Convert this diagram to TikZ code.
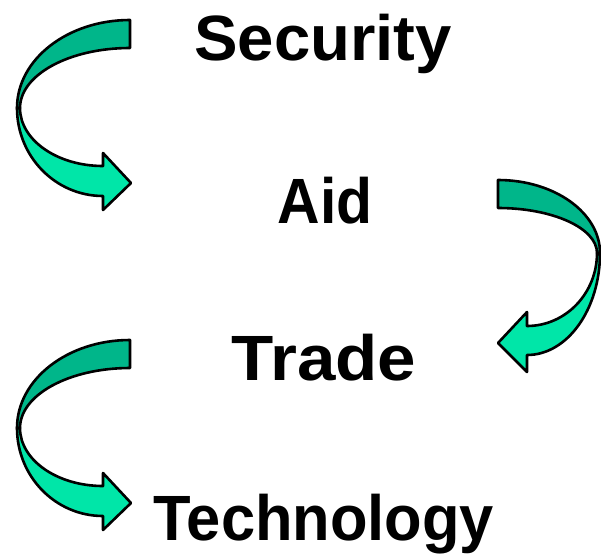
\documentclass[tikz,border=0pt]{standalone}
\usepackage{fontspec}
\setmainfont{Liberation Sans}
\definecolor{banddark}{RGB}{0,182,138}
\definecolor{bandlight}{RGB}{0,230,168}
\begin{document}
\begin{tikzpicture}[x=1pt,y=-1pt,
  band/.style={draw=black,line width=2.6pt,line join=round},
  upperband/.style={band,fill=banddark},
  lowerband/.style={band,fill=bandlight},
  word/.style={anchor=base,inner sep=0pt,font=\fontsize{64}{70}\selectfont\bfseries}]
\useasboundingbox (0,0) rectangle (601,554);
% texts
\node[word] (security) at (323,60) {\scalebox{1.02}[1]{Security}};
\node[word] (aid) at (325,223) {\scalebox{0.92}[1]{Aid}};
\node[word] (trade) at (324,380) {\scalebox{1.08}[1]{Trade}};
\node[word] (technology) at (324,540) {\scalebox{0.96}[1]{Technology}};
% left arrows (Security -> Aid, Trade -> Technology)
\foreach \dy in {0,320}{
  \begin{scope}[yshift=-\dy pt]
    \filldraw[lowerband] (17,108) arc[start angle=180,end angle=90,x radius=86,y radius=88]
      -- (103,210) -- (131,183) -- (103,153) -- (103,166)
      arc[start angle=90,end angle=180,x radius=83,y radius=58] -- cycle;
    \filldraw[upperband] (130,20) arc[start angle=270,end angle=180,x radius=113,y radius=88]
      -- (20,108) arc[start angle=180,end angle=270,x radius=110,y radius=60] -- cycle;
  \end{scope}
}
% right arrow (Aid -> Trade)
\filldraw[lowerband] (600,253) arc[start angle=0,end angle=90,x radius=73,y radius=102]
  -- (527,372) -- (498,343) -- (527,312) -- (527,326)
  arc[start angle=90,end angle=0,x radius=70,y radius=73] -- cycle;
\filldraw[upperband] (498,180) arc[start angle=270,end angle=360,x radius=102,y radius=73]
  -- (597,253) arc[start angle=0,end angle=-90,x radius=99,y radius=45] -- cycle;
\end{tikzpicture}
\end{document}
